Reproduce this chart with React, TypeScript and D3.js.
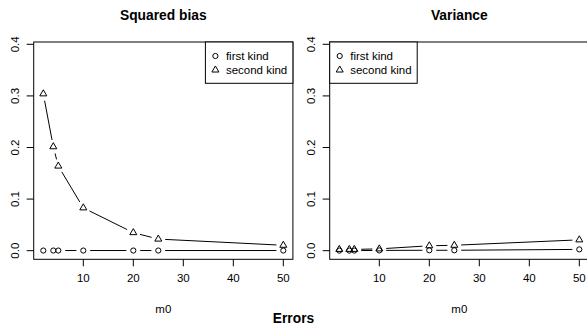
import React from "react";
import * as d3 from "d3";

const m0 = [2, 4, 5, 10, 20, 25, 50];
const biasFirst = [0.0003, 0.0003, 0.0003, 0.0003, 0.0003, 0.0003, 0.0003];
const biasSecond = [0.304, 0.2015, 0.164, 0.083, 0.035, 0.0225, 0.0105];
const varFirst = [0.0002, 0.0002, 0.0002, 0.0005, 0.0008, 0.0008, 0.0025];
const varSecond = [0.0025, 0.0025, 0.0025, 0.0035, 0.0095, 0.0105, 0.021];
const xTicks = [10, 20, 30, 40, 50];
const yTicks = [0, 0.1, 0.2, 0.3, 0.4];
const panelTitles = ["Squared bias", "Variance"];
const legendLabels = ["first kind", "second kind"];

const W = 587;
const H = 325;
const FONT = "'Liberation Sans', Arial, Helvetica, sans-serif";
const FS = 11.5;
const GAP = 6.9;
const R0 = 2.6;

function Circle({ x, y }: { x: number; y: number }) {
  return <circle cx={x} cy={y} r={R0} fill="none" stroke="#000" strokeWidth={1} />;
}
function Tri({ x, y }: { x: number; y: number }) {
  const r = 1.5551 * R0;
  const xc = 1.3468 * R0;
  const yc = 0.7776 * R0;
  const pts = `${x},${y - r} ${x + xc},${y + yc} ${x - xc},${y + yc}`;
  return <polygon points={pts} fill="none" stroke="#000" strokeWidth={1} />;
}

function SegmentsB({ pts }: { pts: [number, number][] }) {
  const segs: React.ReactElement[] = [];
  for (let i = 0; i < pts.length - 1; i++) {
    const [x1, y1] = pts[i];
    const [x2, y2] = pts[i + 1];
    const dx = x2 - x1;
    const dy = y2 - y1;
    const d = Math.hypot(dx, dy);
    if (d > 2 * GAP) {
      const ux = dx / d;
      const uy = dy / d;
      segs.push(
        <line key={i} x1={x1 + ux * GAP} y1={y1 + uy * GAP} x2={x2 - ux * GAP} y2={y2 - uy * GAP} stroke="#000" strokeWidth={1} />
      );
    }
  }
  return <g>{segs}</g>;
}

function Panel({ offset, title, first, second, legendRight }: { offset: number; title: string; first: number[]; second: number[]; legendRight: boolean }) {
  const x = d3.scaleLinear().domain([0.08, 51.92]).range([33.7 + offset, 292.9 + offset]);
  const y = d3.scaleLinear().domain([-0.0167, 0.4045]).range([259.3, 42]);
  const [x0, x1] = x.range();
  const [yb, yt] = y.range();
  const cx = (x0 + x1) / 2;
  const p1 = m0.map((v, i) => [x(v), y(first[i])] as [number, number]);
  const p2 = m0.map((v, i) => [x(v), y(second[i])] as [number, number]);
  const lw = 87.5;
  const lx = legendRight ? x1 - lw : x0;
  const ly = yt;
  const lh = 41.3;
  return (
    <g fontFamily={FONT}>
      <text x={cx} y={20} textAnchor="middle" fontWeight="bold" fontSize={13.8}>{title}</text>
      <rect x={x0} y={yt} width={x1 - x0} height={yb - yt} fill="none" stroke="#000" strokeWidth={1} />
      {xTicks.map((t) => (
        <g key={t}>
          <line x1={x(t)} x2={x(t)} y1={yb} y2={yb + 7} stroke="#000" />
          <text x={x(t)} y={282} textAnchor="middle" fontSize={FS}>{t}</text>
        </g>
      ))}
      {yTicks.map((t) => (
        <g key={t}>
          <line x1={x0 - 7} x2={x0} y1={y(t)} y2={y(t)} stroke="#000" />
          <text x={x0 - 14.5} y={y(t)} transform={`rotate(-90, ${x0 - 14.5}, ${y(t)})`} textAnchor="middle" fontSize={FS}>{t.toFixed(1)}</text>
        </g>
      ))}
      <text x={cx} y={312.5} textAnchor="middle" fontSize={FS}>m0</text>
      <SegmentsB pts={p1} />
      <SegmentsB pts={p2} />
      {p1.map(([a, b], i) => <Circle key={"c" + i} x={a} y={b} />)}
      {p2.map(([a, b], i) => <Tri key={"t" + i} x={a} y={b} />)}
      <rect x={lx} y={ly} width={lw} height={lh} fill="#fff" stroke="#000" strokeWidth={1} />
      <Circle x={lx + 10} y={ly + 14} />
      <Tri x={lx + 10} y={ly + 28} />
      <text x={lx + 20.5} y={ly + 14} dy="0.35em" fontSize={FS}>{legendLabels[0]}</text>
      <text x={lx + 20.5} y={ly + 28} dy="0.35em" fontSize={FS}>{legendLabels[1]}</text>
    </g>
  );
}

export default function App() {
  return (
    <svg width={W} height={H} style={{ position: "absolute", left: 0, top: 0, display: "block", background: "#fff" }}>
      <rect x={0} y={0} width={W} height={H} fill="#fff" />
      <Panel offset={0} title={panelTitles[0]} first={biasFirst} second={biasSecond} legendRight={true} />
      <Panel offset={296} title={panelTitles[1]} first={varFirst} second={varSecond} legendRight={false} />
      <text x={293.5} y={322.5} textAnchor="middle" fontWeight="bold" fontSize={13.8} fontFamily={FONT}>Errors</text>
    </svg>
  );
}
